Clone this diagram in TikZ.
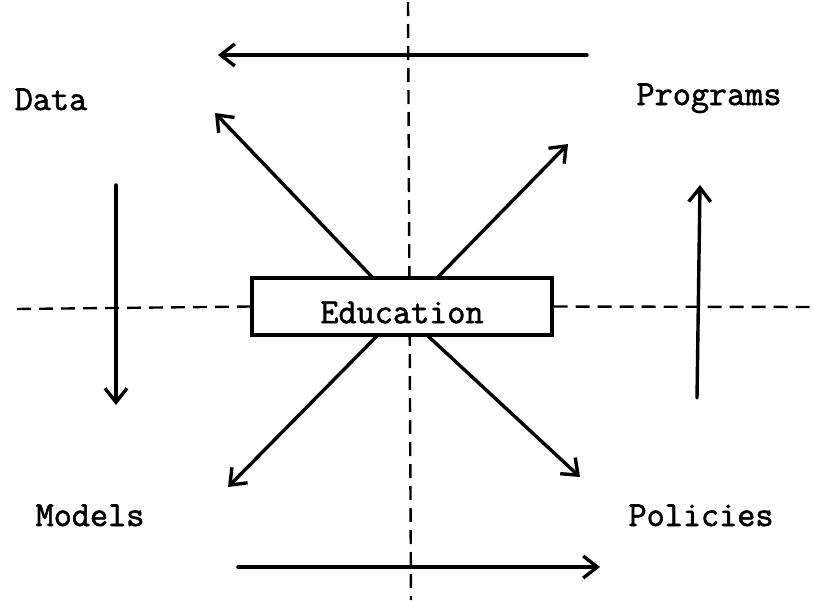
\documentclass[tikz,border=0pt]{standalone}
\usepackage{fontspec}
\usetikzlibrary{arrows.meta}
\newfontfamily\typew[RawFeature={embolden=1.8}]{Latin Modern Mono}

\begin{document}
\begin{tikzpicture}[
    x=0.5pt, y=-0.5pt,
    % Estilos de las lineas
    flow/.style={line width=1.7pt, line cap=round,
        -{Straight Barb[length=7pt, width=11pt, line width=1.7pt]}},
    guide/.style={line width=1.2pt, dash pattern=on 7pt off 4pt},
    % Estilos para los textos
    corner/.style={font=\typew\fontsize{17.6}{20}\selectfont, anchor=base},
    centerbox/.style={draw, fill=white, line width=1.7pt,
        minimum width=150pt, minimum height=28.5pt,
        font=\typew\fontsize{17.6}{20}\selectfont}
]
\useasboundingbox (0,0) rectangle (813,600);

% --- GUIDES ---
\coordinate (vtop) at (408,2);
\coordinate (vbot) at (411,600);
\coordinate (hleft) at (17,309);
\coordinate (hright) at (813,307);
\draw[guide] (vtop) -- (vbot);

% --- CENTER ---
\node[centerbox] (edu) at (402,306.5) {\raisebox{-3pt}[\height][\depth]{Education}};
\draw[guide] (hleft) -- (edu.west);
\draw[guide] (edu.east) -- (hright);

% --- LABELS ---
\node[corner] (data) at (51,110) {Data};
\node[corner] (programs) at (709,105) {Programs};
\node[corner] (models) at (90,526) {Models};
\node[corner] (policies) at (701,526) {Policies};

% --- OUTER ARROWS ---
\coordinate (topR) at (587,55);
\coordinate (topL) at (218,55);
\coordinate (botL) at (238,567);
\coordinate (botR) at (600,567);
\coordinate (leftT) at (116,185);
\coordinate (leftB) at (116,405);
\coordinate (rightB) at (697,398);
\coordinate (rightT) at (700,185);
\draw[flow] (topR) -- (topL);
\draw[flow] (botL) -- (botR);
\draw[flow] (leftT) -- (leftB);
\draw[flow] (rightB) -- (rightT);

% --- DIAGONAL ARROWS ---
\coordinate (ulS) at (373,278);
\coordinate (ulE) at (215,113);
\coordinate (urS) at (437,278);
\coordinate (urE) at (568,144);
\coordinate (llS) at (377,336);
\coordinate (llE) at (228,487);
\coordinate (lrS) at (428,336);
\coordinate (lrE) at (580,477);
\draw[flow] (ulS) -- (ulE);
\draw[flow] (urS) -- (urE);
\draw[flow] (llS) -- (llE);
\draw[flow] (lrS) -- (lrE);

\end{tikzpicture}
\end{document}
